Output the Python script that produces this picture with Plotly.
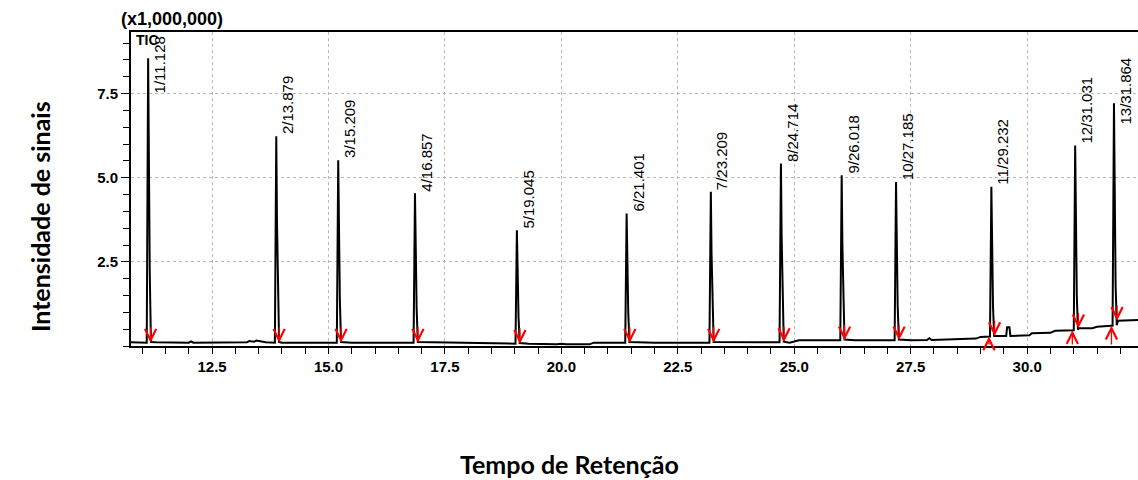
import plotly.graph_objects as go

# ---------------- data ----------------
peak_ids = [1, 2, 3, 4, 5, 6, 7, 8, 9, 10, 11, 12, 13]
peak_rt = [11.128, 13.879, 15.209, 16.857, 19.045, 21.401, 23.209,
           24.714, 26.018, 27.185, 29.232, 31.031, 31.864]
peak_height = [8.55, 6.23, 5.52, 4.54, 3.44, 3.94, 4.58,
               5.42, 5.07, 4.87, 4.73, 5.96, 7.21]
peak_base = [0.10, 0.10, 0.10, 0.10, 0.07, 0.10, 0.10,
             0.11, 0.17, 0.17, 0.28, 0.47, 0.60]

# baseline (retention time, intensity)
base_t = [10.76, 11.3, 12.0, 12.05, 12.1, 13.25, 13.3, 13.4, 13.45, 13.55, 13.65,
          14.0, 15.5, 16.2, 18.0, 19.3, 19.9, 20.0, 20.1, 20.6, 20.7, 22.0,
          24.9, 25.0, 25.1, 26.3, 27.0, 27.5, 27.85, 27.9, 27.95, 28.2, 28.5,
          28.9, 29.0, 29.1, 29.4, 29.55, 29.57, 29.62, 29.64, 29.8, 30.05,
          30.1, 30.5, 30.6, 30.95, 31.12, 31.4, 31.5, 31.8, 31.95, 32.4]
base_y = [0.11, 0.11, 0.10, 0.14, 0.10, 0.11, 0.15, 0.13, 0.16, 0.14, 0.11,
          0.10, 0.10, 0.10, 0.09, 0.07, 0.05, 0.07, 0.05, 0.05, 0.10, 0.10,
          0.10, 0.13, 0.17, 0.17, 0.17, 0.17, 0.18, 0.23, 0.18, 0.19, 0.22,
          0.22, 0.27, 0.27, 0.30, 0.30, 0.56, 0.56, 0.30, 0.30, 0.32,
          0.38, 0.39, 0.45, 0.47, 0.53, 0.53, 0.57, 0.60, 0.75, 0.77]

# integration marks (start / end) of each peak, with their levels
mark_start = [11.08, 13.83, 15.16, 16.81, 19.00, 21.35, 23.16,
              24.67, 25.97, 27.13, 29.18, 30.97, 31.81]
mark_end = [11.18, 13.94, 15.27, 16.92, 19.11, 21.47, 23.27,
            24.78, 26.08, 27.25, 29.30, 31.10, 31.93]
mark_end_level = [0.10, 0.10, 0.10, 0.10, 0.07, 0.10, 0.10,
                  0.12, 0.17, 0.17, 0.30, 0.53, 0.75]

# label anchor (lower end of the rotated label) in y units
label_base = [7.45, 6.23, 5.52, 4.54, 3.44, 3.94, 4.58,
              5.42, 5.07, 4.87, 4.73, 5.96, 6.52]

x_ticks = [12.5, 15.0, 17.5, 20.0, 22.5, 25.0, 27.5, 30.0]
y_ticks = [2.5, 5.0, 7.5]

# ---------------- build trace ----------------
pts = list(zip(base_t, base_y))
for rt, h, b in zip(peak_rt, peak_height, peak_base):
    pts += [(rt - 0.03, b), (rt, h), (rt + 0.015, 0.6 * h),
            (rt + 0.035, 0.25 * h), (rt + 0.06, b + 0.02)]
pts.sort(key=lambda p: p[0])
tx = [p[0] for p in pts]
ty = [p[1] for p in pts]

fig = go.Figure()
fig.add_trace(go.Scatter(x=tx, y=ty, mode="lines",
                         line=dict(color="black", width=2),
                         hoverinfo="skip", showlegend=False))

annots = []
lab_font = dict(family="Liberation Sans, Arial", size=15, color="black")
for pid, rt, lb in zip(peak_ids, peak_rt, label_base):
    annots.append(dict(x=rt, y=lb, xref="x", yref="y",
                       text=f"{pid}/{rt:.3f}", showarrow=False,
                       textangle=-90, xanchor="left", yanchor="bottom",
                       xshift=1, font=lab_font))

for xs, xe, bs, be in zip(mark_start, mark_end, peak_base, mark_end_level):
    annots.append(dict(x=xe, y=be, xref="x", yref="y", text="",
                       showarrow=True, arrowhead=5, arrowsize=1.7,
                       arrowwidth=1.3, arrowcolor="red", ax=0, ay=-17))
    annots.append(dict(x=xs, y=bs, xref="x", yref="y", text="",
                       showarrow=True, arrowhead=5, arrowsize=1.7,
                       arrowwidth=1.3, arrowcolor="red",
                       axref="x", ayref="y", ax=xs, ay=0.0))

fig.update_layout(
    width=1138, height=480,
    margin=dict(l=131, r=0, t=32, b=134),
    paper_bgcolor="white", plot_bgcolor="white",
    font=dict(family="Liberation Sans, Arial", color="black"),
    showlegend=False,
)

fig.update_xaxes(
    range=[10.76, 32.38], tickvals=x_ticks,
    ticktext=[f"{v:.1f}" for v in x_ticks],
    ticks="outside", ticklen=6, tickwidth=1.3, tickcolor="black",
    minor=dict(dtick=0.5, tick0=0, ticks="outside", ticklen=6,
               tickwidth=1.3, tickcolor="black", showgrid=False),
    showline=True, linecolor="black", linewidth=2, mirror=True,
    showgrid=True, gridcolor="#b8b8b8", griddash="dot", gridwidth=1,
    tickfont=dict(family="Liberation Sans, Arial", size=15, weight="bold"),
    zeroline=False,
)
fig.update_yaxes(
    range=[0, 9.33], tickvals=y_ticks,
    ticktext=[f"{v:.1f}" for v in y_ticks],
    ticks="outside", ticklen=8, tickwidth=1.3, tickcolor="black",
    minor=dict(dtick=0.5, tick0=0, ticks="outside", ticklen=6,
               tickwidth=1.3, tickcolor="black", showgrid=False),
    showline=True, linecolor="black", linewidth=2, mirror=False,
    showgrid=True, gridcolor="#b8b8b8", griddash="dot", gridwidth=1,
    tickfont=dict(family="Liberation Sans, Arial", size=15, weight="bold"),
    zeroline=False,
)

# plot area in pixels: x 131..1138, y 32..346
def ax_x(xpix):
    return (xpix - 131) / (1138 - 131)
def ax_y(ypix):
    return (346 - ypix) / (346 - 32)

layout_ann = [
    dict(x=ax_x(119), y=ax_y(19), xref="paper", yref="paper",
         text="<b>(x1,000,000)</b>", showarrow=False,
         xanchor="left", yanchor="middle",
         font=dict(family="Liberation Sans, Arial", size=18)),
    dict(x=ax_x(134), y=ax_y(40), xref="paper", yref="paper",
         text="<b>TIC</b>", showarrow=False,
         xanchor="left", yanchor="middle",
         font=dict(family="Liberation Sans, Arial", size=14)),
    dict(x=ax_x(40), y=ax_y(217), xref="paper", yref="paper",
         text="<b>Intensidade de sinais</b>",
         showarrow=False, textangle=-90, xanchor="center", yanchor="middle",
         font=dict(family="Lato, Open Sans", size=25)),
    dict(x=ax_x(569), y=ax_y(464), xref="paper", yref="paper",
         text="<b>Tempo de Retenção</b>",
         showarrow=False, xanchor="center", yanchor="middle",
         font=dict(family="Lato, Open Sans", size=25)),
]
fig.update_layout(annotations=annots + layout_ann)

fig.write_html("out.html")
